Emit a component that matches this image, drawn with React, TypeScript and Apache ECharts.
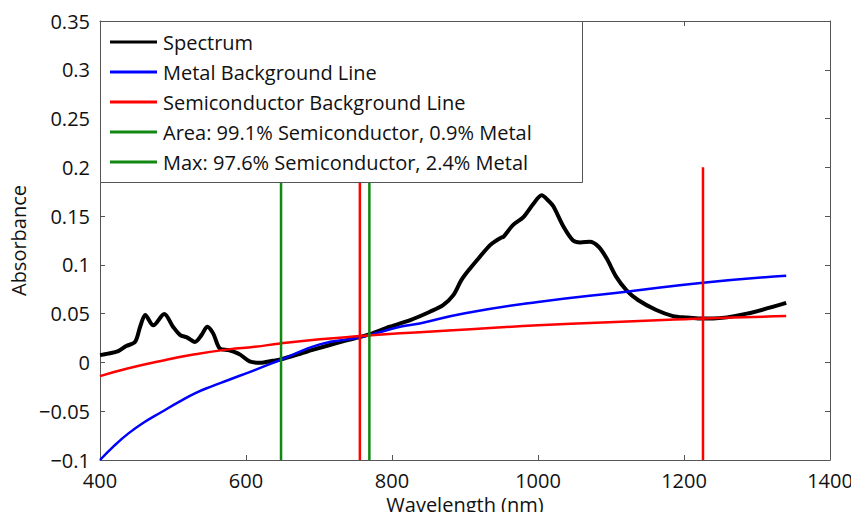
import React, { useEffect, useRef } from "react";
import * as echarts from "echarts";

const spectrumX = [400, 411, 425, 436, 448, 455, 462, 473, 488, 500, 510, 519, 530, 539, 547, 555, 564, 576, 583, 592, 605, 619, 637, 647, 683, 729, 756, 770, 797, 825, 852, 870, 884, 895, 907, 920, 934, 943, 950, 953, 966, 980, 994, 1005, 1014, 1021, 1035, 1048, 1058, 1071, 1083, 1094, 1107, 1121, 1137, 1162, 1185, 1204, 1222, 1240, 1286, 1340];
const spectrumY = [0.0075, 0.009, 0.0117, 0.0168, 0.021, 0.0366, 0.0486, 0.038, 0.0496, 0.0366, 0.028, 0.0257, 0.021, 0.028, 0.0366, 0.0298, 0.0144, 0.0127, 0.011, 0.008, 0.001, -0.0003, 0.0018, 0.003, 0.011, 0.021, 0.026, 0.029, 0.0366, 0.0434, 0.052, 0.0588, 0.069, 0.0844, 0.0964, 0.108, 0.12, 0.125, 0.128, 0.129, 0.141, 0.149, 0.163, 0.1715, 0.166, 0.16, 0.139, 0.125, 0.123, 0.1237, 0.1186, 0.1067, 0.088, 0.0742, 0.064, 0.0537, 0.0475, 0.046, 0.045, 0.045, 0.05, 0.061];

const metalX = [400, 420, 439, 460, 485, 507, 530, 553, 576, 612, 647, 701, 756, 811, 838, 900, 1000, 1121, 1226, 1340];
const metalY = [-0.1, -0.085, -0.0727, -0.0615, -0.0505, -0.041, -0.0317, -0.0245, -0.018, -0.0078, 0.0025, 0.0185, 0.0257, 0.0366, 0.04, 0.0505, 0.062, 0.0725, 0.0817, 0.0889];

const semiX = [400, 439, 485, 530, 576, 612, 647, 701, 756, 811, 838, 1000, 1226, 1340];
const semiY = [-0.014, -0.006, 0.0018, 0.0083, 0.0134, 0.016, 0.0195, 0.0237, 0.027, 0.03, 0.031, 0.038, 0.045, 0.0475];

const areaLineX = 648;
const maxLineX = 769;
const semiMarkersX = [756, 1226];
const verticalSpan = [-0.1, 0.2];

const legendNames = [
  "Spectrum",
  "Metal Background Line",
  "Semiconductor Background Line",
  "Area: 99.1% Semiconductor, 0.9% Metal",
  "Max: 97.6% Semiconductor, 2.4% Metal",
];

const xTicks = { min: 400, max: 1400, interval: 200 };
const yTicks = { min: -0.1, max: 0.35, interval: 0.05 };

const zip = (xs: number[], ys: number[]) => xs.map((x, i) => [x, ys[i]]);
const vline = (x: number) => verticalSpan.map((y) => [x, y]);

const FONT = "Open Sans";
const FS = 20;
const AXIS_COLOR = "#555";
const TEXT_COLOR = "#111";

export default function App() {
  const ref = useRef<HTMLDivElement>(null);
  useEffect(() => {
    document.body.style.margin = "0";
    const chart = echarts.init(ref.current!, null, { renderer: "svg" });
    const yFmt = (v: number) => {
      const s = parseFloat(v.toFixed(2)).toString();
      return s.replace("-", "\u2212");
    };
    const xFmt = (v: number) => String(Math.round(v));
    const tickCommon = { show: true, inside: true, length: 5, lineStyle: { color: AXIS_COLOR } };
    const axisLineCommon = { show: true, onZero: false, lineStyle: { color: AXIS_COLOR } };
    const lineCommon = { type: "line", showSymbol: false, symbol: "none", animation: false };
    chart.setOption({
      animation: false,
      textStyle: { fontFamily: FONT },
      grid: { left: 100, right: 21, top: 21, bottom: 52, containLabel: false, outerBoundsMode: "none" },
      xAxis: [
        {
          type: "value",
          ...xTicks,
          name: "Wavelength (nm)",
          nameLocation: "middle",
          nameGap: 30,
          nameTextStyle: { fontSize: FS, color: TEXT_COLOR, fontFamily: FONT },
          axisLine: axisLineCommon,
          axisTick: tickCommon,
          axisLabel: { fontSize: FS, color: TEXT_COLOR, margin: 10, formatter: xFmt, fontFamily: FONT },
          splitLine: { show: false },
        },
        {
          type: "value",
          position: "top",
          ...xTicks,
          axisLine: axisLineCommon,
          axisTick: tickCommon,
          axisLabel: { show: false },
          splitLine: { show: false },
        },
      ],
      yAxis: [
        {
          type: "value",
          ...yTicks,
          name: "Absorbance",
          nameLocation: "middle",
          nameRotate: 90,
          nameGap: 71,
          nameTextStyle: { fontSize: FS, color: TEXT_COLOR, fontFamily: FONT },
          axisLine: axisLineCommon,
          axisTick: tickCommon,
          axisLabel: { fontSize: FS, color: TEXT_COLOR, margin: 10, formatter: yFmt, fontFamily: FONT },
          splitLine: { show: false },
        },
        {
          type: "value",
          position: "right",
          ...yTicks,
          axisLine: axisLineCommon,
          axisTick: tickCommon,
          axisLabel: { show: false },
          splitLine: { show: false },
        },
      ],
      legend: {
        data: legendNames.map((name) => ({ name, icon: "rect" })),
        orient: "vertical",
        left: 100,
        top: 21,
        padding: [11, 0, 0, 10],
        itemGap: 10,
        itemWidth: 47,
        itemHeight: 3,
        z: 60,
        selectedMode: false,
        textStyle: { fontSize: FS, lineHeight: 20, color: TEXT_COLOR, fontFamily: FONT, padding: [0, 0, 0, 1] },
      },
      graphic: [
        {
          type: "rect",
          z: 50,
          shape: { x: 100.5, y: 21.5, width: 482, height: 161 },
          style: { fill: "#fff", stroke: AXIS_COLOR, lineWidth: 1 },
        },
      ],
      series: [
        { ...lineCommon, name: legendNames[0], data: zip(spectrumX, spectrumY), smooth: 0.3, color: "#000", lineStyle: { color: "#000", width: 4 } },
        { ...lineCommon, name: legendNames[1], data: zip(metalX, metalY), smooth: true, color: "#0000ff", lineStyle: { color: "#0000ff", width: 2.5 } },
        { ...lineCommon, name: legendNames[2], data: zip(semiX, semiY), smooth: true, color: "#ff0000", lineStyle: { color: "#ff0000", width: 2.5 } },
        { ...lineCommon, name: legendNames[3], data: vline(areaLineX), color: "#118811", lineStyle: { color: "#118811", width: 2.5 } },
        { ...lineCommon, name: legendNames[4], data: vline(maxLineX), color: "#118811", lineStyle: { color: "#118811", width: 2.5 } },
        ...semiMarkersX.map((x, i) => ({
          ...lineCommon,
          name: "Semiconductor marker " + (i + 1),
          data: vline(x),
          color: "#ff0000",
          lineStyle: { color: "#ff0000", width: 2.5 },
        })),
      ],
    });
    return () => chart.dispose();
  }, []);
  return <div ref={ref} style={{ width: 851, height: 512 }} />;
}
